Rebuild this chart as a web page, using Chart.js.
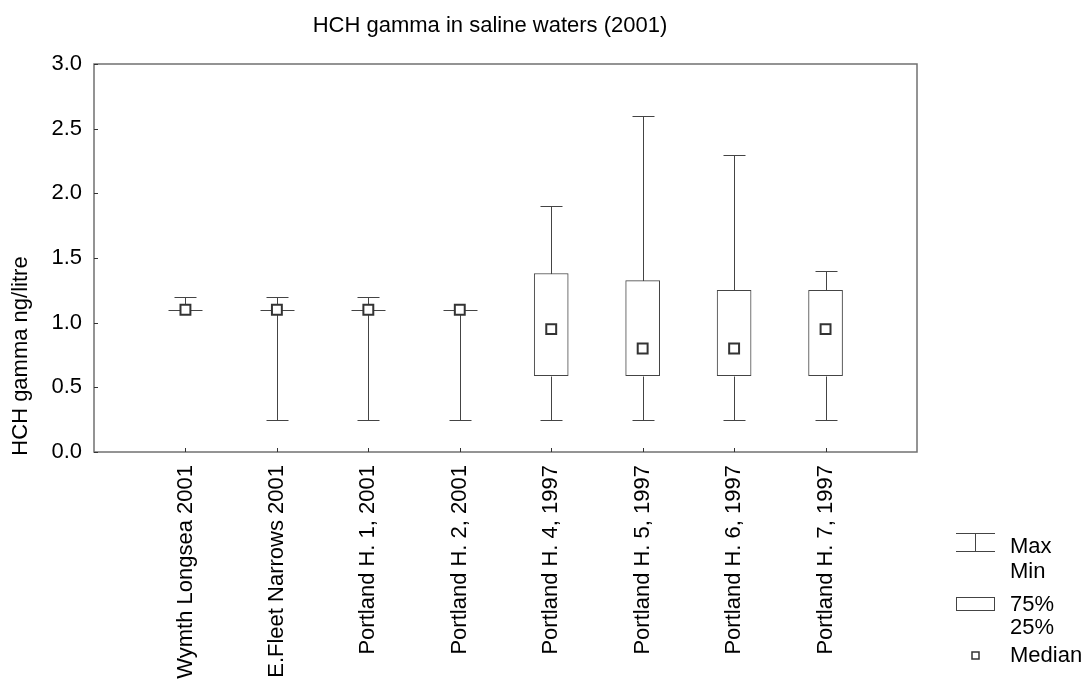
<!DOCTYPE html>
<html>
<head>
<meta charset="utf-8">
<script src="https://cdn.jsdelivr.net/npm/chart.js@4"></script>
<style>
  body { margin: 0; background: #fff; }
  canvas { display: block; }
</style>
</head>
<body>
<canvas id="myChart" width="1085" height="679"></canvas>
<script>
// data
var categories = [
    "Wymth Longsea 2001",
    "E.Fleet Narrows 2001",
    "Portland H. 1, 2001",
    "Portland H. 2, 2001",
    "Portland H. 4, 1997",
    "Portland H. 5, 1997",
    "Portland H. 6, 1997",
    "Portland H. 7, 1997",
];
var minVals = [1.1, 0.25, 0.25, 0.25, 0.25, 0.25, 0.25, 0.25];
var q1Vals = [1.1, 1.1, 1.1, 1.1, 0.59, 0.59, 0.59, 0.59];
var medianVals = [1.1, 1.1, 1.1, 1.1, 0.95, 0.8, 0.8, 0.95];
var q3Vals = [1.1, 1.1, 1.1, 1.1, 1.38, 1.325, 1.25, 1.25];
var maxVals = [1.2, 1.2, 1.2, 1.1, 1.9, 2.6, 2.3, 1.4];
var yTicks = { min: 0, max: 3, step: 0.5 };

var titleText = "HCH gamma in saline waters (2001)";
var yTitleText = "HCH gamma ng/litre";

var FONT = "Arial, 'Liberation Sans', sans-serif";
var lineCol = "#444";
var frameCol = "#707070";

// one empty slot each side so the boxes sit one step in from the frame
var labels = [""].concat(categories, [""]);
var boxData = [null].concat(categories.map((c, i) => [q1Vals[i], q3Vals[i]]), [null]);
var medData = [null].concat(medianVals, [null]);

function px(v) {
    return Math.round(v) + 0.5;
}

// whiskers, caps, flat boxes, frame, ticks, titles and legend
var boxExtras = {
    id: "boxExtras",
    beforeDatasetsDraw(chart) {
        var ctx = chart.ctx;
        var xs = chart.scales.x;
        var ys = chart.scales.y;
        var boxW = 34;
        var capW = 22;
        ctx.save();
        ctx.strokeStyle = lineCol;
        ctx.lineWidth = 1;
        categories.forEach((c, i) => {
            var x = px(xs.getPixelForValue(i + 1));
            var yMin = px(ys.getPixelForValue(minVals[i]));
            var yMax = px(ys.getPixelForValue(maxVals[i]));
            var yQ1 = px(ys.getPixelForValue(q1Vals[i]));
            var yQ3 = px(ys.getPixelForValue(q3Vals[i]));
            ctx.beginPath();
            ctx.moveTo(x, yMax);
            ctx.lineTo(x, yQ3);
            ctx.moveTo(x, yQ1);
            ctx.lineTo(x, yMin);
            if (maxVals[i] > q3Vals[i]) {
                ctx.moveTo(x - capW / 2, yMax);
                ctx.lineTo(x + capW / 2, yMax);
            }
            if (minVals[i] < q1Vals[i]) {
                ctx.moveTo(x - capW / 2, yMin);
                ctx.lineTo(x + capW / 2, yMin);
            }
            if (q1Vals[i] == q3Vals[i]) {
                ctx.moveTo(x - boxW / 2, yQ1);
                ctx.lineTo(x + boxW / 2, yQ1);
            }
            ctx.stroke();
        });
        ctx.restore();
    },
    afterDraw(chart) {
        var ctx = chart.ctx;
        var a = chart.chartArea;
        var xs = chart.scales.x;
        var ys = chart.scales.y;
        ctx.save();

        // frame
        ctx.strokeStyle = frameCol;
        ctx.lineWidth = 1.5;
        ctx.strokeRect(a.left, a.top, a.right - a.left, a.bottom - a.top);

        // inward ticks
        ctx.strokeStyle = "#333";
        ctx.lineWidth = 1;
        ctx.beginPath();
        ys.ticks.forEach((t) => {
            var y = px(ys.getPixelForValue(t.value));
            ctx.moveTo(a.left, y);
            ctx.lineTo(a.left + 4, y);
        });
        categories.forEach((c, i) => {
            var x = px(xs.getPixelForValue(i + 1));
            ctx.moveTo(x, a.bottom);
            ctx.lineTo(x, a.bottom - 4);
        });
        ctx.stroke();

        // titles
        ctx.fillStyle = "#000";
        ctx.font = "22px " + FONT;
        ctx.textAlign = "center";
        ctx.textBaseline = "middle";
        ctx.fillText(titleText, 490, 26);
        ctx.save();
        ctx.translate(21, 356);
        ctx.rotate(-Math.PI / 2);
        ctx.fillText(yTitleText, 0, 0);
        ctx.restore();

        // legend
        ctx.strokeStyle = lineCol;
        ctx.lineWidth = 1;
        ctx.beginPath();
        ctx.moveTo(956, 533.5);
        ctx.lineTo(995, 533.5);
        ctx.moveTo(975.5, 533.5);
        ctx.lineTo(975.5, 551.5);
        ctx.moveTo(956, 551.5);
        ctx.lineTo(995, 551.5);
        ctx.stroke();
        ctx.strokeRect(956.5, 597.5, 38, 13);
        ctx.strokeStyle = "#333";
        ctx.lineWidth = 1.5;
        ctx.strokeRect(972, 652, 7, 7);

        ctx.textAlign = "left";
        ctx.fillText("Max", 1010, 547);
        ctx.fillText("Min", 1010, 572);
        ctx.fillText("75%", 1010, 605);
        ctx.fillText("25%", 1010, 628);
        ctx.fillText("Median", 1010, 656);
        ctx.restore();
    },
};

const ctx = document.getElementById("myChart").getContext("2d");

var myjson = {
    type: "bar",
    data: {
        labels: labels,
        datasets: [{
                type: "line",
                label: "Median",
                data: medData,
                showLine: false,
                pointStyle: "rect",
                pointRadius: 7,
                pointBackgroundColor: "#fff",
                pointBorderColor: "#333",
                pointBorderWidth: 2,
                order: 0,
            },
            {
                label: "25%-75%",
                data: boxData,
                backgroundColor: "#fff",
                borderColor: lineCol,
                borderWidth: 1,
                borderSkipped: false,
                barThickness: 34,
                order: 1,
            },
        ],
    },
    options: {
        responsive: false,
        animation: false,
        devicePixelRatio: 1,
        layout: {
            padding: { left: 0, top: 64, right: 168, bottom: 0 },
        },
        plugins: {
            legend: { display: false },
            title: { display: false },
            tooltip: { enabled: false },
        },
        scales: {
            x: {
                offset: false,
                grid: { display: false, offset: false },
                border: { display: false },
                ticks: {
                    autoSkip: false,
                    minRotation: 90,
                    maxRotation: 90,
                    padding: 5,
                    color: "#000",
                    font: { size: 22, family: FONT },
                },
                afterFit: (scale) => {
                    scale.height = 227;
                },
            },
            y: {
                min: yTicks.min,
                max: yTicks.max,
                grid: { display: false },
                border: { display: false },
                ticks: {
                    stepSize: yTicks.step,
                    padding: 4,
                    color: "#000",
                    font: { size: 22, family: FONT },
                    callback: (v) => v.toFixed(1),
                },
                afterFit: (scale) => {
                    scale.width = 94;
                },
            },
        },
    },
    plugins: [boxExtras],
};

const myChart = new Chart(ctx, myjson);
</script>
</body>
</html>
